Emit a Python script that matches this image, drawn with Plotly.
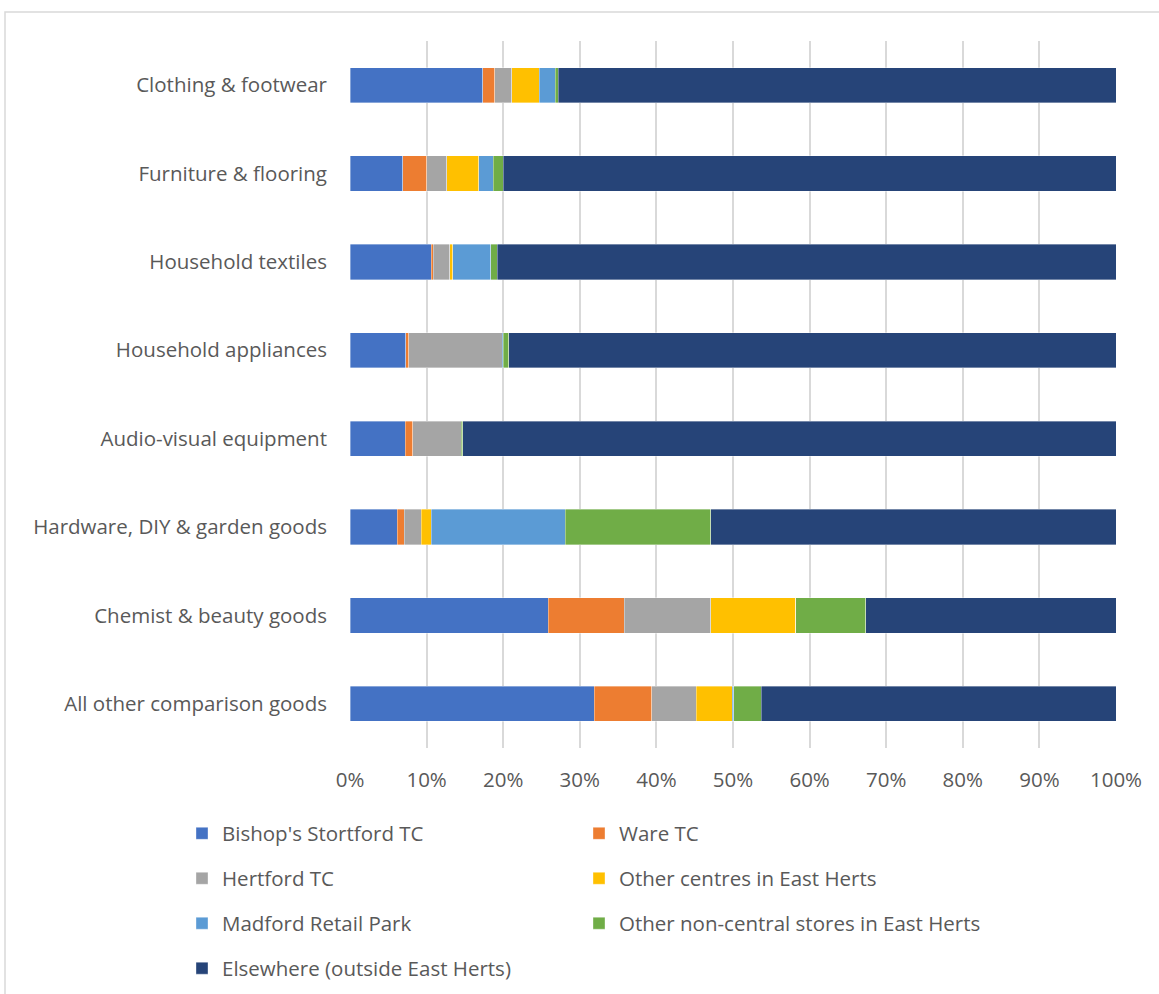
import plotly.graph_objects as go

# Share of comparison goods spending by destination (%)
categories = [
    "Clothing & footwear",
    "Furniture & flooring",
    "Household textiles",
    "Household appliances",
    "Audio-visual equipment",
    "Hardware, DIY & garden goods",
    "Chemist & beauty goods",
    "All other comparison goods",
]

bishops_stortford = [17.3, 6.9, 10.6, 7.3, 7.2, 6.2, 25.9, 31.9]
ware = [1.6, 3.1, 0.3, 0.4, 1.0, 0.9, 9.9, 7.5]
hertford = [2.2, 2.6, 2.1, 12.2, 6.3, 2.2, 11.3, 5.8]
other_centres = [3.6, 4.2, 0.4, 0.0, 0.0, 1.3, 11.1, 4.7]
madford = [2.1, 1.9, 5.0, 0.1, 0.0, 17.5, 0.0, 0.2]
other_non_central = [0.4, 1.3, 0.8, 0.7, 0.2, 19.0, 9.1, 3.6]
elsewhere = [72.8, 80.0, 80.8, 79.3, 85.3, 52.9, 32.7, 46.3]

series = [
    ("Bishop's Stortford TC", bishops_stortford, "#4472C4", "legend"),
    ("Ware TC", ware, "#ED7D31", "legend2"),
    ("Hertford TC", hertford, "#A5A5A5", "legend"),
    ("Other centres in East Herts", other_centres, "#FFC000", "legend2"),
    ("Madford Retail Park", madford, "#5B9BD5", "legend"),
    ("Other non-central stores in East Herts", other_non_central, "#70AD47", "legend2"),
    ("Elsewhere (outside East Herts)", elsewhere, "#264478", "legend"),
]

FONT = "Open Sans"
TEXT = "#595959"
SIZE = 20.5

fig = go.Figure()
for i, (name, vals, color, leg) in enumerate(series):
    fig.add_trace(go.Bar(
        name=name,
        y=categories,
        x=vals,
        orientation="h",
        marker=dict(color=color, line=dict(color="rgba(255,255,255,0.6)", width=0.6)),
        legend=leg,
        legendgroup=f"g{i}",
    ))

L, R, T, B = 350, 43, 41, 246
W, H = 1159, 994
pw, ph = W - L - R, H - T - B

def px_x(v):
    return (v - L) / pw

def px_y(v):
    return (H - B - v) / ph

legend_style = dict(
    orientation="v",
    font=dict(family=FONT, size=SIZE, color=TEXT),
    xanchor="left",
    yanchor="top",
    y=px_y(813.5),
    tracegroupgap=15.3,
    bgcolor="rgba(0,0,0,0)",
    itemclick=False,
)

fig.update_layout(
    width=W,
    height=H,
    margin=dict(l=L, r=R, t=T, b=B, autoexpand=False),
    barmode="stack",
    bargap=0.6,
    plot_bgcolor="white",
    paper_bgcolor="white",
    font=dict(family=FONT, size=SIZE, color=TEXT),
    legend=dict(x=px_x(182), **legend_style),
    legend2=dict(x=px_x(579), **legend_style),
    xaxis=dict(
        range=[0, 100],
        tickvals=[0, 10, 20, 30, 40, 50, 60, 70, 80, 90, 100],
        ticktext=[f"{v}%" for v in range(0, 101, 10)],
        showgrid=True,
        gridcolor="#D9D9D9",
        gridwidth=1.5,
        zeroline=False,
        showline=False,
        ticks="",
        ticklabelstandoff=17,
        tickfont=dict(family=FONT, size=SIZE, color=TEXT),
    ),
    yaxis=dict(
        autorange="reversed",
        showgrid=False,
        zeroline=False,
        showline=False,
        ticks="",
        ticklabelstandoff=22,
        tickfont=dict(family=FONT, size=SIZE, color=TEXT),
    ),
    shapes=[
        dict(
            type="rect", xref="paper", yref="paper",
            x0=px_x(5), x1=px_x(1170), y0=px_y(1010), y1=px_y(12),
            line=dict(color="#D9D9D9", width=1.5),
            fillcolor="rgba(0,0,0,0)", layer="below",
        )
    ],
)

fig.write_html("out.html")
